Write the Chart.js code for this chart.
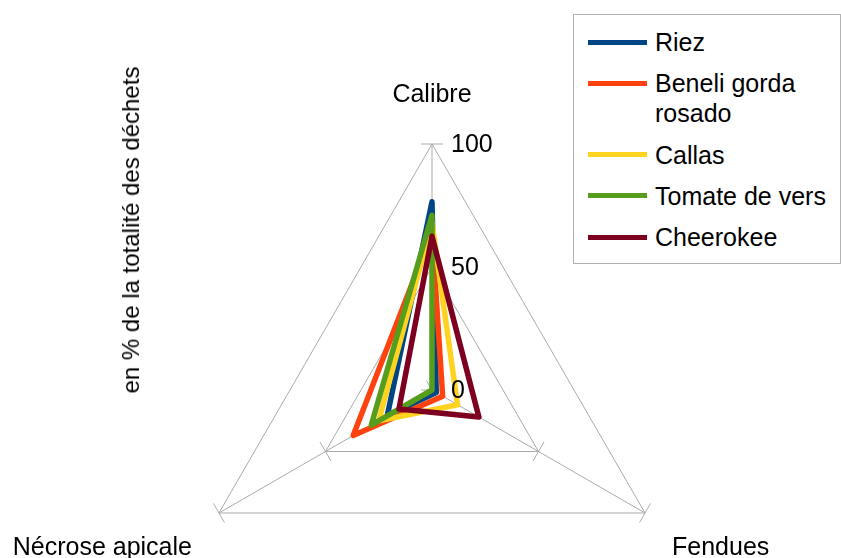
<!DOCTYPE html>
<html lang="fr">
<head>
<meta charset="utf-8">
<title>Déchets par variété</title>
<script src="https://cdn.jsdelivr.net/npm/chart.js@4/dist/chart.umd.min.js"></script>
<style>
    html, body { margin: 0; padding: 0; background: #fff; overflow: hidden; }
    #wrap { position: relative; width: 841px; height: 558px; overflow: hidden;
            font-family: "Liberation Sans", Arial, sans-serif; color: #000; }
    #chart { position: absolute; left: 0; top: 0; }
    #yTitle { position: absolute; left: 131px; top: 230px; font-size: 24px; white-space: nowrap;
              transform: translate(-50%, -50%) rotate(-90deg); }
    #legend { position: absolute; left: 573px; top: 14px; width: 266px; height: 236px;
              border: 1px solid #b3b3b3; background: #fff; display: flex; flex-direction: column;
              padding-top: 12px; box-sizing: content-box; gap: 11.3px; }
    .item { display: flex; align-items: flex-start; }
    .swatch { width: 59px; height: 5px; margin-left: 14px; margin-top: 12.5px; flex: none; }
    .text { margin-left: 8px; width: 182px; font-size: 25px; line-height: 30px; }
</style>
</head>
<body>
<div id="wrap">
    <canvas id="chart" width="841" height="640"></canvas>
    <div id="yTitle">en % de la totalité des déchets</div>
    <div id="legend"></div>
</div>
<script>
// Categories (spokes), clockwise from the top
const categories = ['Calibre', 'Fendues', 'Nécrose apicale'];

// Series names and values (% of all waste)
const seriesNames = ['Riez', 'Beneli gorda rosado', 'Callas', 'Tomate de vers', 'Cheerokee'];
const riez = [76.5, 2, 21];
const beneli = [64, 5, 37];
const callas = [68, 12, 25];
const tomateDeVers = [71, 0, 28.5];
const cheerokee = [62.5, 22, 15.5];
const seriesValues = [riez, beneli, callas, tomateDeVers, cheerokee];
const seriesColors = ['#004586', '#ff420e', '#ffd320', '#579d1c', '#7e0021'];

// Value axis ticks
const tickValues = [0, 50, 100];

const FONT = '25px "Liberation Sans", Arial, sans-serif';
const GRID = '#aaaaaa';

// small perpendicular tick marks on every spoke, under the data
const spokeTicks = {
    id: 'spokeTicks',
    beforeDatasetsDraw(chart) {
        const scale = chart.scales.r;
        const ctx = chart.ctx;
        ctx.save();
        ctx.strokeStyle = GRID;
        ctx.lineWidth = 1;
        categories.forEach((c, i) => {
            const a = scale.getIndexAngle(i) - Math.PI / 2;
            const px = -Math.sin(a), py = Math.cos(a);
            tickValues.forEach(v => {
                const p = scale.getPointPositionForValue(i, v);
                ctx.beginPath();
                ctx.moveTo(p.x - px * 11, p.y - py * 11);
                ctx.lineTo(p.x + px * 11, p.y + py * 11);
                ctx.stroke();
            });
        });
        ctx.restore();
    }
};

// tick numbers to the right of the top spoke, and category labels
const axisText = {
    id: 'axisText',
    afterDraw(chart) {
        const scale = chart.scales.r;
        const ctx = chart.ctx;
        ctx.save();
        ctx.font = FONT;
        ctx.fillStyle = '#000';
        ctx.textBaseline = 'alphabetic';

        ctx.textAlign = 'left';
        tickValues.forEach(v => {
            const p = scale.getPointPositionForValue(0, v);
            ctx.fillText(String(v), scale.xCenter + 19, p.y + 8);
        });

        const top = scale.getPointPositionForValue(0, 100);
        ctx.textAlign = 'center';
        ctx.fillText(categories[0], top.x, top.y - 42.5);

        const right = scale.getPointPositionForValue(1, 100);
        ctx.textAlign = 'left';
        ctx.fillText(categories[1], right.x + 27, right.y + 42);

        const left = scale.getPointPositionForValue(2, 100);
        ctx.textAlign = 'right';
        ctx.fillText(categories[2], left.x - 27, left.y + 42);
        ctx.restore();
    }
};

const datasets = seriesNames.map((name, i) => ({
    label: name,
    data: seriesValues[i],
    borderColor: seriesColors[i],
    backgroundColor: seriesColors[i],
    borderWidth: 5.5,
    borderJoinStyle: 'round',
    fill: false,
    pointRadius: 0,
    pointHoverRadius: 0,
    // later series drawn on top, as in the original
    order: seriesNames.length - i
}));

// canvas is taller than the page so the plot centre sits low, like the original
new Chart(document.getElementById('chart'), {
    type: 'radar',
    data: { labels: categories, datasets: datasets },
    options: {
        responsive: false,
        animation: false,
        layout: { padding: { left: 186, right: 163, top: 144, bottom: 4 } },
        plugins: { legend: { display: false }, tooltip: { enabled: false } },
        scales: {
            r: {
                min: 0,
                max: 100,
                ticks: { display: false, stepSize: 50 },
                pointLabels: { display: false },
                grid: { color: GRID, lineWidth: 1 },
                angleLines: { color: GRID, lineWidth: 1 }
            }
        }
    },
    plugins: [spokeTicks, axisText]
});

// legend as html so the long name can wrap like the original
const legend = document.getElementById('legend');
seriesNames.forEach((name, i) => {
    const item = document.createElement('div');
    item.className = 'item';
    const sw = document.createElement('div');
    sw.className = 'swatch';
    sw.style.background = seriesColors[i];
    const tx = document.createElement('div');
    tx.className = 'text';
    tx.textContent = name;
    item.appendChild(sw);
    item.appendChild(tx);
    legend.appendChild(item);
});
</script>
</body>
</html>
